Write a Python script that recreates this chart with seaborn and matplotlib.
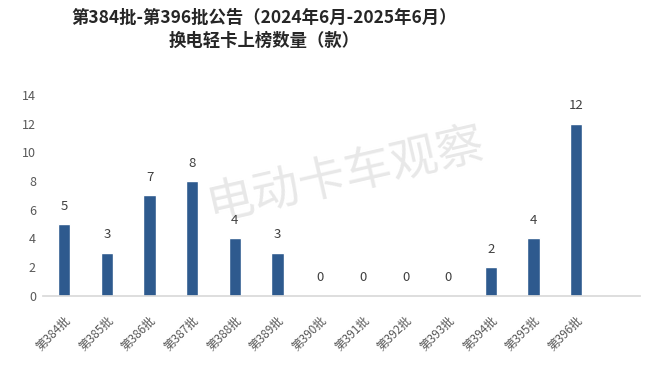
import matplotlib
matplotlib.use("Agg")
import matplotlib.pyplot as plt
import seaborn as sns
import pandas as pd

# data
batches = ["第384批", "第385批", "第386批", "第387批", "第388批", "第389批", "第390批",
           "第391批", "第392批", "第393批", "第394批", "第395批", "第396批"]
counts = [5, 3, 7, 8, 4, 3, 0, 0, 0, 0, 2, 4, 12]
title = "第384批-第396批公告（2024年6月-2025年6月）\n换电轻卡上榜数量（款）"

sns.set_theme(style="white")
plt.rcParams['font.family'] = ['Noto Sans CJK SC', 'DejaVu Sans']

df = pd.DataFrame({"batch": batches, "count": counts})

fig = plt.figure(figsize=(6.6, 3.74), dpi=100)
ax = fig.add_axes([0.065, 0.209, 0.905, 0.537])

sns.barplot(data=df, x="batch", y="count", color="#2E5A8E", width=0.29,
            saturation=1, ax=ax, zorder=2)

for p, v in zip(ax.patches, counts):
    ax.text(p.get_x() + p.get_width() / 2, v + 0.8, str(v), ha="center",
            va="bottom", fontsize=9.5, color="#404040", zorder=3)

ax.set_xlim(-0.5, 13.5)
ax.set_ylim(0, 14)
ax.set_yticks(range(0, 15, 2))
ax.set(xlabel=None, ylabel=None)
ax.spines[["top", "right", "left"]].set_visible(False)
ax.spines["bottom"].set_color("#d9d9d9")
ax.tick_params(axis="y", labelsize=9, labelcolor="#595959", length=0, pad=5)
ax.tick_params(axis="x", labelsize=8.5, labelcolor="#595959", length=0, pad=13)
plt.setp(ax.get_xticklabels(), rotation=45, ha="right", rotation_mode="anchor")

# watermark
ax.text(0.523, 0.53, "电动卡车观察", fontsize=34, color="#e8e8e8", rotation=13,
        ha="center", va="center", zorder=1, transform=fig.transFigure)

fig.text(0.40, 0.975, title, fontsize=12.5, fontweight="bold", color="#262626",
         ha="center", va="top", linespacing=1.35)

fig.savefig("out.png", dpi=100)
